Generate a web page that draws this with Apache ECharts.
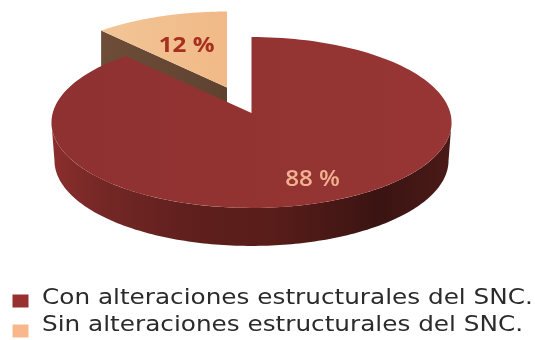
<!DOCTYPE html>
<html>
<head>
<meta charset="utf-8">
<script src="https://cdn.jsdelivr.net/npm/echarts@6/dist/echarts.min.js"></script>
<style>html,body{margin:0;padding:0;background:#fff}#chart{width:535px;height:340px}</style>
</head>
<body>
<div id="chart"></div>
<script>
// Shares of patients, as percentages
const categories = ['Con alteraciones estructurales del SNC.', 'Sin alteraciones estructurales del SNC.'];
const shares = [88, 12];
const swatchColors = ['#97302f', '#f8b88c'];

// Projection of the tilted disc: a unit circle seen in perspective
const view = { cx: 251.5, cy: 113, a: 198.8, b: 84.4, k: 0.111, depth: 38, wallScale: 0.985 };
// Per-slice drawing styles, in the same order as the categories
const explode = [[0, 0], [-24.5, -25.5]];
const labelRadius = [0.78, 0.57];
const labelColors = ['#f2b190', '#a5301f'];
const labelFonts = ['600 22px "Open Sans", sans-serif', '700 22px "Open Sans", sans-serif'];
const topFills = [['#8e3130', '#973634'], ['#f2c596', '#f1b987']];
const wallStops = [
  [[0, '#8a2e2c'], [0.12, '#752826'], [0.35, '#5f1f1c'], [0.55, '#591d1a'], [0.82, '#3a1412'], [1, '#4a1a17']],
  [[0, '#6d4d38'], [1, '#5e4230']]
];
// Legend layout
const legendLayout = {
  swatchX: 12.5, swatchW: 16, swatchH: 13, swatchRows: [301, 331],
  textX: 42, textRows: [299, 325.5], textStretch: 1.177
};

const total = shares.reduce((s, v) => s + v, 0);

function project(theta, r, dx, dy, depth, scale) {
  const u = r * Math.sin(theta), v = r * Math.cos(theta);
  const w = 1 + view.k * v;
  return [
    view.cx + dx + (view.a * u / w) * scale,
    view.cy + dy - view.b * v / w + depth
  ];
}

function renderSlice(index) {
  return function () {
    const before = shares.slice(0, index).reduce((s, v) => s + v, 0);
    const start = before / total * Math.PI * 2;
    const end = (before + shares[index]) / total * Math.PI * 2;
    const [dx, dy] = explode[index];
    const steps = 160;
    const apex = project(0, 0, dx, dy, 0, 1);
    const apexLow = project(0, 0, dx, dy, view.depth, 1);
    const first = project(start, 1, dx, dy, 0, 1);
    const firstLow = project(start, 1, dx, dy, view.depth, 1);
    const rim = [];
    for (let i = 0; i <= steps; i++) {
      rim.push(project(start + (end - start) * i / steps, 1, dx, dy, 0, 1));
    }
    const children = [];
    const fillAcross = (stops) => new echarts.graphic.LinearGradient(
      view.cx + dx - view.a, 0, view.cx + dx + view.a, 0,
      stops.map(s => ({ offset: s[0], color: s[1] })), true);

    // Only the part of the rim facing the viewer gets a wall
    const frontFrom = Math.max(start, Math.acos(-view.k));
    const frontTo = Math.min(end, Math.PI * 2 - Math.acos(-view.k));
    if (frontTo > frontFrom) {
      const upper = [], lower = [];
      for (let i = 0; i <= steps; i++) {
        const t = frontFrom + (frontTo - frontFrom) * i / steps;
        upper.push(project(t, 1, dx, dy, 0, 1));
        lower.push(project(t, 1, dx, dy, view.depth, view.wallScale));
      }
      children.push({
        type: 'polygon',
        shape: { points: upper.concat(lower.reverse()) },
        style: { fill: fillAcross(wallStops[index]) }
      });
    }
    if (index === 1) {
      // Cut face turned towards the viewer on the detached slice
      const faceStops = wallStops[index].map(s => ({ offset: s[0], color: s[1] }));
      children.push({
        type: 'polygon',
        shape: { points: [first, apex, apexLow, firstLow] },
        style: { fill: new echarts.graphic.LinearGradient(0, 0, 1, 0, faceStops) }
      });
    }
    // Upper face
    children.push({
      type: 'polygon',
      shape: { points: [apex].concat(rim) },
      style: {
        fill: new echarts.graphic.LinearGradient(0, 0, 1, 0, [
          { offset: 0, color: topFills[index][0] },
          { offset: 1, color: topFills[index][1] }
        ])
      }
    });
    // Percentage label placed along the slice's middle direction
    const mid = project((start + end) / 2, labelRadius[index], dx, dy, 0, 1);
    children.push({
      type: 'text',
      x: mid[0] - 1,
      y: mid[1],
      scaleX: 1.1,
      style: {
        text: Math.round(shares[index] / total * 100) + ' %',
        x: 0, y: 0, align: 'center', verticalAlign: 'middle',
        fill: labelColors[index],
        font: labelFonts[index]
      }
    });
    return { type: 'group', children };
  };
}

const legendEntries = categories.flatMap((name, i) => [
  {
    type: 'rect',
    shape: {
      x: legendLayout.swatchX,
      y: legendLayout.swatchRows[i] - legendLayout.swatchH / 2,
      width: legendLayout.swatchW,
      height: legendLayout.swatchH
    },
    style: { fill: swatchColors[i] }
  },
  {
    type: 'text',
    x: legendLayout.textX,
    y: legendLayout.textRows[i],
    scaleX: legendLayout.textStretch,
    style: {
      text: name,
      verticalAlign: 'middle',
      fill: '#2b2b2b',
      font: '21px "DejaVu Sans", sans-serif'
    }
  }
]);

const chart = echarts.init(document.getElementById('chart'), null, { renderer: 'canvas' });
chart.setOption({
  animation: false,
  backgroundColor: '#ffffff',
  graphic: { elements: legendEntries },
  // Later slices first so that the large slice overlaps the detached one
  series: [1, 0].map(i => ({
    type: 'custom',
    name: categories[i],
    coordinateSystem: 'none',
    itemStyle: { color: swatchColors[i] },
    data: [shares[i]],
    renderItem: renderSlice(i),
    silent: true
  }))
});
</script>
</body>
</html>
